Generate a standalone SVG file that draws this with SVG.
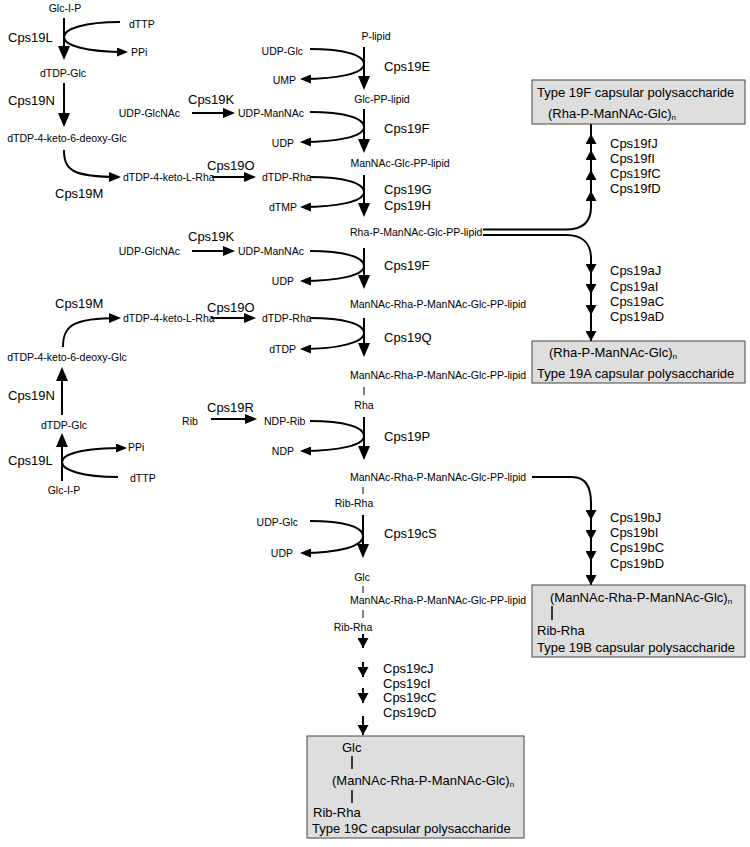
<svg xmlns="http://www.w3.org/2000/svg" width="750" height="847" viewBox="0 0 750 847">
<defs>
<style>
text{font-family:"Liberation Sans",Arial,sans-serif;fill:#000}
.s{font-size:10.5px}
.l{font-size:13px}
.m{text-anchor:middle}
.e{text-anchor:end}
.ln{fill:none;stroke:#000;stroke-width:2}
.bar{stroke:#000;stroke-width:1}
.bar2{stroke:#000;stroke-width:1.5}
.box{fill:#dedede;stroke:#444;stroke-width:1}
</style>
<marker id="big" markerUnits="userSpaceOnUse" markerWidth="14" markerHeight="12" refX="12" refY="6" orient="auto"><path d="M0,0L14,6L0,12z"/></marker>
<marker id="med" markerUnits="userSpaceOnUse" markerWidth="12" markerHeight="10" refX="10" refY="5" orient="auto"><path d="M0,0L12,5L0,10z"/></marker>
<marker id="sm" markerUnits="userSpaceOnUse" markerWidth="11" markerHeight="9" refX="9" refY="4.5" orient="auto"><path d="M0,0L11,4.5L0,9z"/></marker>
<marker id="tri" markerUnits="userSpaceOnUse" markerWidth="10" markerHeight="11" refX="10" refY="5.5" orient="auto"><path d="M0,0L10,5.5L0,11z"/></marker>
</defs>
<rect width="750" height="847" fill="#fff"/>

<g id="connectors">
<!-- upper left dTDP-Rha pathway -->
<path class="ln" d="M64,18V58" marker-end="url(#big)"/>
<path class="ln" d="M120,22C84,22 64,29 64,37C64,45 84,52 126,52" marker-end="url(#sm)"/>
<path class="ln" d="M64,83V125" marker-end="url(#big)"/>
<path class="ln" d="M64,150C64,170 72,177 119,177" marker-end="url(#med)"/>
<path class="ln" d="M212,177H254" marker-end="url(#med)"/>
<path class="ln" d="M192,113H233" marker-end="url(#med)"/>
<!-- main chain -->
<path class="ln" d="M364,47V88" marker-end="url(#big)"/>
<path class="ln" d="M310,49C344,49 364,55 364,64C364,73 340,79 302,79" marker-end="url(#sm)"/>
<path class="ln" d="M364,109V151" marker-end="url(#big)"/>
<path class="ln" d="M310,112C344,112 364,118 364,127C364,136 340,142 302,142" marker-end="url(#sm)"/>
<path class="ln" d="M364,175V215" marker-end="url(#big)"/>
<path class="ln" d="M310,177C344,177 364,183 364,192C364,201 340,207 302,207" marker-end="url(#sm)"/>
<path class="ln" d="M364,248V287" marker-end="url(#big)"/>
<path class="ln" d="M310,251C344,251 364,257 364,266C364,275 340,281 302,281" marker-end="url(#sm)"/>
<path class="ln" d="M364,318V355" marker-end="url(#big)"/>
<path class="ln" d="M310,318C344,318 364,324 364,333C364,342 340,349 302,349" marker-end="url(#sm)"/>
<path class="ln" d="M364,417V458" marker-end="url(#big)"/>
<path class="ln" d="M310,421C344,421 364,427 364,436C364,445 340,451 302,451" marker-end="url(#sm)"/>
<path class="ln" d="M363,515V556" marker-end="url(#big)"/>
<path class="ln" d="M310,521C344,521 363,527 363,536C363,546 340,553 302,553" marker-end="url(#sm)"/>
<!-- lower left -->
<path class="ln" d="M192,251H233" marker-end="url(#med)"/>
<path class="ln" d="M63,347C63,326 72,318 119,318" marker-end="url(#med)"/>
<path class="ln" d="M211,318H254" marker-end="url(#med)"/>
<path class="ln" d="M62,415V369" marker-end="url(#big)"/>
<path class="ln" d="M62,481V435" marker-end="url(#big)"/>
<path class="ln" d="M118,477C82,477 62,470 62,462C62,454 82,448 125,448" marker-end="url(#sm)"/>
<path class="ln" d="M211,419H255" marker-end="url(#med)"/>
<!-- branches to 19F and 19A -->
<path class="ln" d="M483,229.5H566C582,229.5 591,222 591,207"/>
<path class="ln" d="M591,208V191V170V150V134V124" marker-mid="url(#tri)"/>
<path class="ln" d="M483,235H566C582,235 591,243 591,258"/>
<path class="ln" d="M591,257V274V294V315V341" marker-mid="url(#tri)" marker-end="url(#tri)"/>
<!-- branch to 19B -->
<path class="ln" d="M532,477H572C585,477 591,486 591,503"/>
<path class="ln" d="M591,502V520V540V561V585" marker-mid="url(#tri)" marker-end="url(#tri)"/>
<!-- to 19C -->
<path class="ln" d="M363,634V648" marker-end="url(#tri)"/>
<path class="ln" d="M363,662V677" marker-end="url(#tri)"/>
<path class="ln" d="M363,688V703" marker-end="url(#tri)"/>
<path class="ln" d="M363,716V735" marker-end="url(#tri)"/>
</g>

<g id="enzymes">
<text class="l" x="8" y="42">Cps19L</text>
<text class="l" x="8" y="105">Cps19N</text>
<text class="l" x="55" y="198">Cps19M</text>
<text class="l" x="188" y="104">Cps19K</text>
<text class="l" x="207" y="170">Cps19O</text>
<text class="l" x="384" y="71">Cps19E</text>
<text class="l" x="384" y="133">Cps19F</text>
<text class="l" x="384" y="194">Cps19G</text>
<text class="l" x="384" y="210">Cps19H</text>
<text class="l" x="188" y="241">Cps19K</text>
<text class="l" x="384" y="270">Cps19F</text>
<text class="l" x="55" y="308">Cps19M</text>
<text class="l" x="207" y="312">Cps19O</text>
<text class="l" x="384" y="342">Cps19Q</text>
<text class="l" x="8" y="400">Cps19N</text>
<text class="l" x="207" y="412">Cps19R</text>
<text class="l" x="384" y="441">Cps19P</text>
<text class="l" x="8" y="465">Cps19L</text>
<text class="l" x="384" y="538">Cps19cS</text>
<text class="l" x="383" y="673">Cps19cJ</text>
<text class="l" x="383" y="688">Cps19cI</text>
<text class="l" x="383" y="702">Cps19cC</text>
<text class="l" x="383" y="717">Cps19cD</text>
<text class="l" x="610" y="148">Cps19fJ</text>
<text class="l" x="610" y="163">Cps19fI</text>
<text class="l" x="610" y="178">Cps19fC</text>
<text class="l" x="610" y="193">Cps19fD</text>
<text class="l" x="610" y="275">Cps19aJ</text>
<text class="l" x="610" y="291">Cps19aI</text>
<text class="l" x="610" y="306">Cps19aC</text>
<text class="l" x="610" y="321">Cps19aD</text>
<text class="l" x="610" y="522">Cps19bJ</text>
<text class="l" x="610" y="537">Cps19bI</text>
<text class="l" x="610" y="552">Cps19bC</text>
<text class="l" x="610" y="568">Cps19bD</text>
</g>

<g id="n-glc1p-1"><text class="s m" x="65" y="12">Glc-I-P</text></g>
<g id="n-dttp-1"><text class="s" x="129" y="28">dTTP</text></g>
<g id="n-ppi-1"><text class="s" x="131" y="56">PPi</text></g>
<g id="n-dtdpglc-1"><text class="s m" x="63" y="77">dTDP-Glc</text></g>
<g id="n-keto6-1"><text class="s m" x="67" y="142">dTDP-4-keto-6-deoxy-Glc</text></g>
<g id="n-udpglcnac-1"><text class="s e" x="180" y="117">UDP-GlcNAc</text></g>
<g id="n-udpmannac-1"><text class="s" x="238" y="117">UDP-ManNAc</text></g>
<g id="n-ketorha-1"><text class="s" x="123" y="181">dTDP-4-keto-L-Rha</text></g>
<g id="n-dtdprha-1"><text class="s" x="262" y="181">dTDP-Rha</text></g>
<g id="n-dtmp"><text class="s e" x="297" y="211">dTMP</text></g>

<g id="n-plipid"><text class="s m" x="376" y="40">P-lipid</text></g>
<g id="n-udpglc-1"><text class="s e" x="303" y="55">UDP-Glc</text></g>
<g id="n-ump"><text class="s e" x="296" y="84">UMP</text></g>
<g id="n-glcpp"><text class="s m" x="382" y="103">Glc-PP-lipid</text></g>
<g id="n-udp-1"><text class="s e" x="294" y="147">UDP</text></g>
<g id="n-mannacglcpp"><text class="s m" x="400" y="167">ManNAc-Glc-PP-lipid</text></g>
<g id="n-rhapmannac"><text class="s" x="350" y="236">Rha-P-ManNAc-Glc-PP-lipid</text></g>

<g id="n-udpglcnac-2"><text class="s e" x="180" y="255">UDP-GlcNAc</text></g>
<g id="n-udpmannac-2"><text class="s" x="238" y="255">UDP-ManNAc</text></g>
<g id="n-udp-2"><text class="s e" x="294" y="285">UDP</text></g>
<g id="n-mannacrha-1"><text class="s" x="350" y="308">ManNAc-Rha-P-ManNAc-Glc-PP-lipid</text></g>
<g id="n-ketorha-2"><text class="s" x="123" y="322">dTDP-4-keto-L-Rha</text></g>
<g id="n-dtdprha-2"><text class="s" x="262" y="322">dTDP-Rha</text></g>
<g id="n-dtdp"><text class="s e" x="296" y="353">dTDP</text></g>
<g id="n-keto6-2"><text class="s m" x="67" y="361">dTDP-4-keto-6-deoxy-Glc</text></g>
<g id="n-mannacrha-2">
<text class="s" x="350" y="379">ManNAc-Rha-P-ManNAc-Glc-PP-lipid</text>
<line class="bar" x1="364" y1="387" x2="364" y2="395"/>
<text class="s m" x="364" y="409">Rha</text>
</g>
<g id="n-dtdpglc-2"><text class="s m" x="64" y="429">dTDP-Glc</text></g>
<g id="n-rib"><text class="s m" x="190" y="425">Rib</text></g>
<g id="n-ndprib"><text class="s" x="264" y="425">NDP-Rib</text></g>
<g id="n-ndp"><text class="s e" x="294" y="455">NDP</text></g>
<g id="n-ppi-2"><text class="s" x="128" y="451">PPi</text></g>
<g id="n-dttp-2"><text class="s" x="130" y="482">dTTP</text></g>
<g id="n-glc1p-2"><text class="s m" x="64" y="494">Glc-I-P</text></g>
<g id="n-mannacrha-3">
<text class="s" x="350" y="481">ManNAc-Rha-P-ManNAc-Glc-PP-lipid</text>
<line class="bar" x1="363" y1="487" x2="363" y2="494"/>
<text class="s m" x="354" y="507">Rib-Rha</text>
</g>
<g id="n-udpglc-2"><text class="s e" x="298" y="526">UDP-Glc</text></g>
<g id="n-udp-3"><text class="s e" x="293" y="557">UDP</text></g>
<g id="n-mannacrha-4">
<text class="s m" x="362" y="581">Glc</text>
<line class="bar" x1="363" y1="586" x2="363" y2="593"/>
<text class="s" x="350" y="604">ManNAc-Rha-P-ManNAc-Glc-PP-lipid</text>
<line class="bar" x1="363" y1="610" x2="363" y2="618"/>
<text class="s m" x="353" y="631">Rib-Rha</text>
</g>

<g id="box-19F">
<rect class="box" x="532" y="80" width="213" height="44"/>
<text class="l" x="537" y="97">Type 19F capsular polysaccharide</text>
<text class="l" x="548" y="118">(Rha-P-ManNAc-Glc)<tspan font-size="8" dy="2">n</tspan></text>
</g>
<g id="box-19A">
<rect class="box" x="532" y="341" width="213" height="42"/>
<text class="l" x="549" y="357">(Rha-P-ManNAc-Glc)<tspan font-size="8" dy="2">n</tspan></text>
<text class="l" x="537" y="378">Type 19A capsular polysaccharide</text>
</g>
<g id="box-19B">
<rect class="box" x="532" y="585" width="213" height="72"/>
<text class="l" x="550" y="602">(ManNAc-Rha-P-ManNAc-Glc)<tspan font-size="8" dy="2">n</tspan></text>
<line class="bar2" x1="552" y1="606" x2="552" y2="620"/>
<text class="l" x="537" y="635">Rib-Rha</text>
<text class="l" x="537" y="652">Type 19B capsular polysaccharide</text>
</g>
<g id="box-19C">
<rect class="box" x="307" y="736" width="217" height="102"/>
<text class="l" x="342" y="752">Glc</text>
<line class="bar2" x1="352" y1="756" x2="352" y2="769"/>
<text class="l" x="332" y="785">(ManNAc-Rha-P-ManNAc-Glc)<tspan font-size="8" dy="2">n</tspan></text>
<line class="bar2" x1="352" y1="790" x2="352" y2="803"/>
<text class="l" x="313" y="817">Rib-Rha</text>
<text class="l" x="312" y="833">Type 19C capsular polysaccharide</text>
</g>
</svg>
